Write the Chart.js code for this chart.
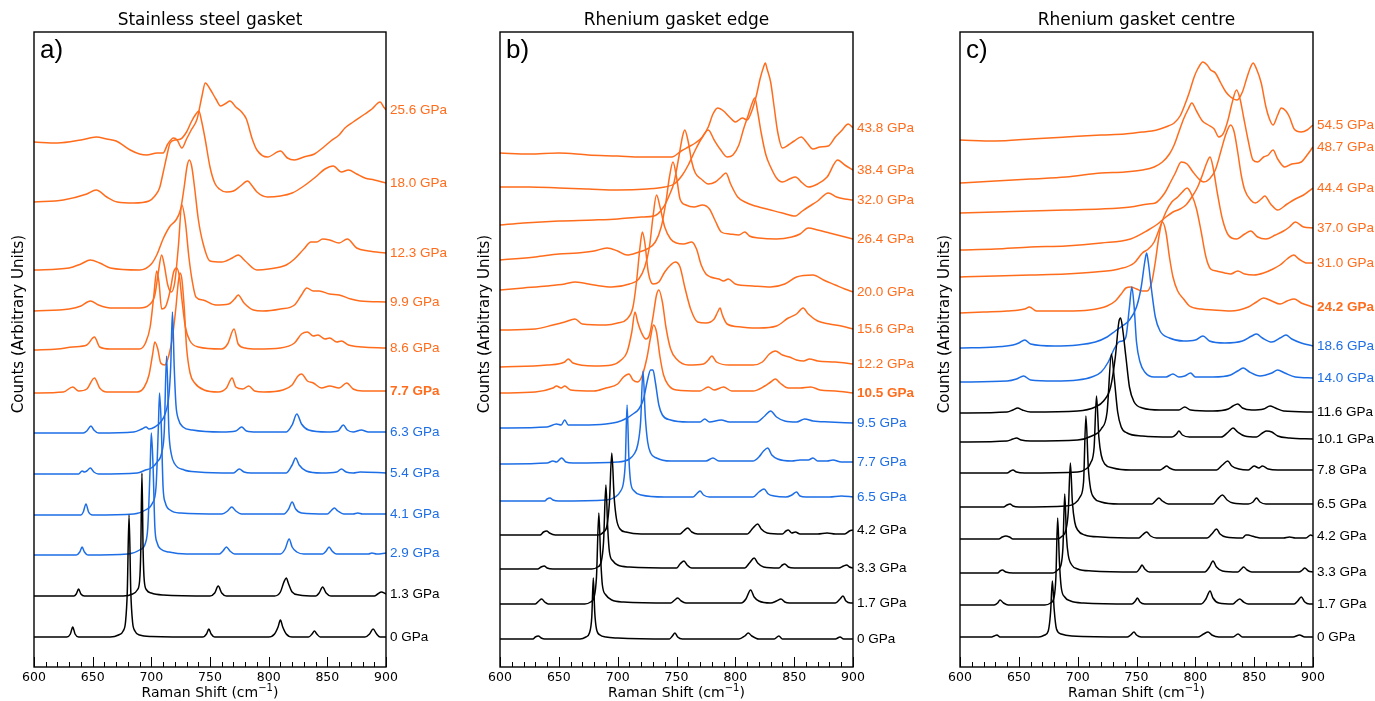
<!DOCTYPE html>
<html>
<head>
<meta charset="utf-8">
<script src="https://cdn.jsdelivr.net/npm/chart.js@4.4.1/dist/chart.umd.min.js"></script>
<style>
  html, body { margin: 0; padding: 0; background: #fff; overflow: hidden; }
  #wrap { position: relative; width: 1375px; height: 701px; }
  canvas { position: absolute; top: 0; }
</style>
</head>
<body>
<div id="wrap">
  <canvas id="panelA" width="470" height="701" style="left:0px"></canvas>
  <canvas id="panelB" width="470" height="701" style="left:466px"></canvas>
  <canvas id="panelC" width="449" height="701" style="left:926px"></canvas>
</div>
<script>
// ---- data: Raman shift (cm-1) vs stacked counts (arbitrary units) ----
const xTicks = [600, 650, 700, 750, 800, 850, 900];

// a) stainless steel gasket
const ssPressures = ['0 GPa', '1.3 GPa', '2.9 GPa', '4.1 GPa', '5.4 GPa', '6.3 GPa',
  '7.7 GPa', '8.6 GPa', '9.9 GPa', '12.3 GPa', '18.0 GPa', '25.6 GPa'];
const ssPhase = ['k', 'k', 'b', 'b', 'b', 'b', 'o', 'o', 'o', 'o', 'o', 'o'];
const ssSpectra = [
  [[600,30],[628,30],[631,33],[633,40],[635,33],[638,30],[665,30],[672,32],[676,36],[678,45],[679.5,75],[681,152],[682.5,75],[684,45],[686,36],[690,32],[700,30.5],[744,30],[747,33],[749,38],[751,33],[754,30],[800,30],[805,33],[808,40],[810,47],[812,40],[815,33],[820,30],[834,30],[837,33],[839,36],[841,33],[844,30],[882,30],[886,33],[889,38],[892,33],[895,30],[900,30]],
  [[600,71],[634,71],[636,73],[638,78],[640,73],[643,71],[676,71],[684,73],[688,77],[690,86],[691,116],[692,194],[693,116],[694,86],[696,77],[700,74],[710,72],[750,71],[754,74],[757,81],[760,74],[764,71],[805,71],[810,75],[813,85],[815,89],[817,83],[820,75],[826,72],[840,71],[843,74],[846,80],[849,74],[853,71],[890,71],[893,73],[896,75],[900,73]],
  [[600,112],[636,112],[639,115],[641,120],[643,115],[646,112],[680,113],[690,117],[695,124],[697,140],[699,200],[700,234],[701.5,200],[703,140],[705,124],[708,118],[715,115],[730,113],[758,113],[761,116],[764,120],[767,116],[771,113],[810,113],[814,118],[817.5,128],[820,120],[824,115],[830,113],[846,113],[849,116],[851.5,120],[854,116],[858,113],[885,113],[888,114],[892,113],[900,114]],
  [[600,152],[640,152],[642,155],[644.3,163],[646.5,155],[650,152],[685,153],[695,157],[701,164],[704,180],[706,240],[707,274],[708.5,240],[710,180],[712,164],[716,157],[725,154],[760,153],[765,156],[768.5,160],[772,156],[777,153],[813,153],[817,158],[820,165],[823,158],[828,154],[850,153],[853,156],[856,159],[859,156],[864,153],[872,153],[876,154],[880,153],[900,153]],
  [[600,193],[638,193],[641,196],[643,195],[645,196],[648,199],[651,195],[655,193],[688,194],[695,197],[700,199],[705,205],[709,215],[711,235],[713,311],[715,235],[717,213],[720,203],[728,197],[740,195],[770,194],[775,198],[779,195],[785,194],[815,194],[820,202],[823,209],[826,202],[832,196],[845,194],[858,195],[862,198],[866,195],[872,194],[878,195],[900,194]],
  [[600,234],[642,234],[645,236],[648.6,241],[651,237],[655,234],[685,235],[692,238],[695.5,240],[698,238],[703,240],[708,245],[712,254],[715,272],[716.5,300],[718,355],[719.5,300],[721,262],[723,248],[727,240],[735,237],[760,235],[772,236],[777,240],[781,236],[790,235],[815,235],[820,242],[824,253],[828,243],[834,237],[850,235],[859,236],[863.6,242],[867,237],[872,235],[879,237],[885,235],[900,235]],
  [[600,274],[625,275],[633,280],[638,276],[645,278],[651.5,289],[656,279],[662,275],[688,275],[694,280],[698,292],[701,312],[703,325],[705.5,318],[708,304],[711.5,302],[715,312],[718,330],[721,360],[723,385],[724.5,394],[726,388],[728,360],[730,320],[733,294],[737,284],[745,277],[757,275],[764,279],[768.8,289],[772,280],[778,278],[783,281],[788,276],[796,275],[812,277],[820,282],[825,291],[828,293],[833,286],[838,284],[845,279],[852,281],[860,279],[866.5,284],[872,278],[880,276],[900,276]],
  [[600,317],[620,318],[633,320],[645,322],[651.5,330],[656,320],[665,318],[690,318],[695,324],[699,340],[702,370],[704.6,396],[706.5,385],[708.8,358],[712,360],[716,376],[719,395],[721.5,399],[724,390],[726,368],[729,340],[733,326],[740,320],[760,318],[765,323],[770.5,338],[774,323],[780,319],[790,318],[810,319],[822,324],[828,333],[833,335],[838,331],[842,332],[848,328],[852,329],[858,325],[862,326],[868,322],[880,320],[900,319]],
  [[600,356],[630,358],[640,361],[648,366],[655,362],[665,359],[690,359],[698,362],[703,372],[706,395],[708.8,412],[711,402],[714,382],[717,375],[720,385],[723,420],[726,462],[729,445],[732,410],[735,385],[738,370],[744,367],[755,362],[766,363],[771,368],[774,372],[779,364],[787,357],[795,356],[810,358],[822,362],[828,372],[832.5,379],[838,376],[843,376],[852,373],[860,372],[870,368],[878,366],[900,365]],
  [[600,397],[630,399],[640,403],[648,407],[656,404],[665,399],[690,397],[700,403],[705,413],[710,428],[716,441],[721,447],[725,458],[728,480],[730.5,501],[732.4,507],[734.5,500],[737,478],[740,448],[744,424],[750,406],[760,405],[769,409],[774,412],[780,406],[790,397],[800,398],[815,402],[822,408],[830,418],[836,425],[841,425],[846,428],[852,427],[860,424],[867,428],[875,419],[885,416],[900,414]],
  [[600,465],[625,467],[645,473],[653,477],[662,470],[671,465],[685,464],[698,466],[703,471],[707,479],[710,494],[713,510],[716,524],[720,527],[725,528],[730,535],[734,545],[738,553],[740.5,556],[743,545],[746,527],[750,500],[754,484],[758,478],[764,475],[770,476],[776,481],[782,486],[786,481],[790,475],[799,470],[810,471],[820,474],[830,481],[840,490],[848,498],[855,501],[862,495],[868,497],[875,493],[882,489],[890,487],[900,484]],
  [[600,525],[620,524],[640,527],[653,530],[662,528],[670,526],[682,517],[690,513],[696,512],[705,514],[710,514],[714,523],[719,529],[722,527],[726,519],[730,528],[734,537],[739,548],[743,570],[746,584],[750,578],[755,568],[759,561],[764,564],[767,566],[772,560],[777,555],[781,548],[786,528],[790,517],[799,510],[810,516],[816,509],[822,507],[830,510],[839,513],[847,520],[853,526],[860,532],[865,539],[872,545],[882,553],[888,558],[895,565],[898,560],[900,557]]
];

// b) rhenium gasket edge
const reEdgePressures = ['0 GPa', '1.7 GPa', '3.3 GPa', '4.2 GPa', '6.5 GPa', '7.7 GPa', '9.5 GPa',
  '10.5 GPa', '12.2 GPa', '15.6 GPa', '20.0 GPa', '26.4 GPa', '32.0 GPa', '38.4 GPa', '43.8 GPa'];
const reEdgePhase = ['k', 'k', 'k', 'k', 'b', 'b', 'b', 'o', 'o', 'o', 'o', 'o', 'o', 'o', 'o'];
const reEdgeSpectra = [
  [[600,28],[628,28],[630,30],[632.6,31],[635,29],[638,28],[668,28],[673,30],[676,34],[678,50],[679.3,89],[680.5,55],[682,38],[685,32],[690,30],[700,29],[744,28],[746.5,31],[748.7,34],[751,30],[755,28],[803,28],[808,31],[811,34],[814,31],[820,28],[833,28],[837,31],[840,28],[885,28],[889,30],[892,28],[900,28]],
  [[600,63],[630,63],[633,66],[635.4,68],[638,65],[641,63],[672,63],[677,65],[680,70],[682,90],[684,154],[685.5,110],[687,82],[690,72],[695,67],[705,65],[745,64],[748.5,67],[751,69],[754,66],[758,64],[805,64],[809,68],[813,77],[816,70],[820,66],[830,64],[835,66],[838.8,68],[842,65],[846,64],[885,64],[889,68],[891.5,71],[894,66],[898,64],[900,64]],
  [[600,98],[632,98],[635,100],[637.6,101],[640,99],[645,98],[678,98],[683,100],[686,105],[688,125],[690,182],[691.5,140],[693,115],[696,106],[700,102],[710,100],[750,99],[753,103],[756.4,106],[759,102],[763,99],[808,99],[812,104],[816,109],[819,104],[824,100],[837,99],[840,102],[842,103],[845,100],[850,99],[888,99],[892,101],[894.6,102],[897,100],[900,99]],
  [[600,132],[634,132],[637,135],[639.7,136],[642,134],[647,132],[683,132],[688,135],[691,142],[693,165],[695,214],[697,170],[699,148],[702,138],[707,135],[720,133],[753,133],[756,136],[759.5,139],[763,135],[768,133],[810,133],[815,139],[819,143],[822,138],[827,134],[840,133],[843,136],[845,137],[848,134],[851,135],[855,133],[870,133],[878,134],[885,133],[893,133],[897,136],[900,137]],
  [[600,166],[638,166],[640,168],[642.5,169],[645,167],[650,166],[690,167],[698,170],[702,175],[705,185],[706.5,205],[708,262],[709.5,210],[711,185],[714,176],[720,172],[740,170],[764,170],[767,173],[770,176],[773,172],[778,170],[815,170],[820,175],[824.4,178],[828,173],[833,171],[843,170],[848,172],[852,175],[855,171],[860,170],[880,170],[890,171],[900,170]],
  [[600,203],[640,204],[645,206],[648,205],[652.4,209],[656,205],[662,204],[700,205],[710,208],[714,213],[717,222],[719.5,245],[721.5,296],[723.5,250],[725.5,225],[728,214],[733,209],[745,206],[775,206],[781,209],[786,206],[815,206],[820,210],[824,216],[827.5,219],[831,212],[836,208],[848,206],[855,207],[862,207],[866,209],[870,206],[878,206],[883,207],[890,205],[900,205]],
  [[600,239],[640,240],[648,243],[652,242],[655,247],[658,242],[670,242],[690,243],[700,245],[708,249],[713,253],[718,258],[722,268],[725,285],[728,297],[730,297],[732,285],[735,262],[738,252],[745,247],[760,245],[770,245],[774,248],[778,245],[788,247],[795,245],[818,245],[825,251],[830,256],[835,250],[842,246],[852,245],[859,248],[866,246],[880,245],[900,244]],
  [[600,274],[630,275],[645,279],[648,281],[652,279],[655,281],[660,277],[680,276],[690,279],[700,283],[705,290],[709.6,293],[713,287],[717,285],[721,292],[725,310],[728,330],[730.5,342],[733,335],[736,310],[739,292],[743,282],[750,277],[770,276],[777,280],[782,277],[790,280],[797,276],[815,276],[825,281],[830,285],[834,288],[838,284],[845,279],[855,279],[864,280],[872,277],[885,276],[900,274]],
  [[600,300],[640,302],[655,305],[658,308],[662,304],[680,301],[695,302],[703,307],[708,315],[712,335],[714.7,355],[717,345],[720,335],[724,328],[727,332],[730,350],[733,372],[735,377],[738,365],[741,340],[745,318],[750,308],[760,302],[773,303],[777,307],[780,311],[784,305],[795,302],[815,302],[823,305],[829,313],[834,316],[840,312],[846,310],[852,307],[858,306],[863,308],[870,306],[885,305],[900,303]],
  [[600,337],[630,338],[645,342],[655,345],[663.7,348],[670,343],[690,342],[700,344],[708,348],[713,360],[716,385],[719,420],[721,435],[723,425],[726,395],[730,383],[735,385],[740,395],[745,402],[749,405],[753,400],[757,380],[762,358],[768,345],[775,344],[782,348],[785,355],[787,359],[789,352],[793,343],[805,340],[820,339],[835,341],[845,349],[852,353],[857.6,359],[862,353],[870,346],[880,343],[890,341],[900,338]],
  [[600,377],[620,379],[640,381],[655,383],[664,385],[680,382],[695,380],[710,383],[718,388],[723,400],[727,420],[730,450],[733,472],[736,460],[740,440],[745,428],[750,424],[756,423],[763,425],[767,418],[771,402],[775,393],[779,390],[786,388],[790,386],[794,388],[800,383],[815,381],[830,380],[842,383],[852,390],[866,392],[875,387],[885,382],[893,378],[900,375]],
  [[600,407],[630,410],[650,413],[666,414],[680,416],[691,419],[700,416],[708,412],[718,415],[725,418],[732,425],[737,440],[741,465],[744,490],[747,505],[750,490],[753,468],[758,462],[765,460],[772,462],[778,458],[783,446],[788,435],[795,433],[803,432],[808,435],[812,431],[820,429],[835,428],[848,430],[855,433],[862,439],[870,437],[880,434],[890,431],[900,428]],
  [[600,442],[620,444],[650,446],[680,447],[700,448],[720,450],[731,451],[739,460],[744,472],[748,485],[752,510],[755,530],[757,537],[760,525],[763,505],[766,494],[771,488],[777,483],[783,485],[788,490],[792,494],[796,483],[802,470],[810,464],[817,461],[830,457],[840,454],[851,451],[857,456],[862,460],[870,466],[879,474],[886,470],[893,468],[900,467]],
  [[600,480],[625,480],[650,479],[675,478],[700,477],[725,478],[740,480],[748,483],[755,492],[760,502],[766,517],[771,528],[777,537],[782,527],[787,518],[793,510],[798,512],[803,522],[807,538],[811,552],[814,563],[816.6,569],[819,555],[822,534],[826,512],[830,500],[835,489],[840,485],[846,488],[851,490],[857,484],[862,480],[870,483],[878,490],[887,507],[893,502],[900,497]],
  [[600,514],[625,513],[650,514],[675,512],[700,511],[720,510],[735,510],[746,510],[754,516],[760,520],[766,524],[772,530],[777,540],[781,553],[785,559],[790,556],[795,550],[800,545],[806,549],[810,547],[814,556],[818,572],[821,588],[824,600],[825.5,604],[827,598],[830,585],[833,560],[836,535],[840,519],[845,522],[850,526],[856,530],[861,524],[866,518],[872,520],[879,521],[885,530],[890,536],[896,543],[900,539]]
];

// c) rhenium gasket centre
const reCentrePressures = ['0 GPa', '1.7 GPa', '3.3 GPa', '4.2 GPa', '6.5 GPa', '7.8 GPa', '10.1 GPa', '11.6 GPa',
  '14.0 GPa', '18.6 GPa', '24.2 GPa', '31.0 GPa', '37.0 GPa', '44.4 GPa', '48.7 GPa', '54.5 GPa'];
const reCentrePhase = ['k', 'k', 'k', 'k', 'k', 'k', 'k', 'k', 'b', 'b', 'o', 'o', 'o', 'o', 'o', 'o'];
const reCentreSpectra = [
  [[600,30],[627,30],[629,31],[631.4,32],[634,30],[640,30],[667,30],[672,32],[675,36],[677,55],[678.5,86],[680,58],[682,38],[686,33],[695,31],[742,30],[745,32],[747.9,35],[750,32],[754,30],[802,30],[807,33],[810.8,35],[814,32],[820,30],[832,30],[836.3,33],[840,30],[883,30],[888.6,32],[893,30],[900,30]],
  [[600,62],[629,62],[632,64],[634,67],[637,64],[641,62],[672,62],[677,64],[680,70],[681.5,90],[683,149],[684.5,105],[686,80],[689,70],[694,66],[705,64],[746,63],[749,66],[750.8,69],[753,65],[757,63],[805,63],[809,68],[812.5,76],[815,69],[820,64],[832,63],[835,66],[837.7,68],[841,65],[845,63],[884,63],[887,66],[890,70],[893,65],[897,63],[900,63]],
  [[600,94],[632,94],[634,96],[636,97],[639,95],[645,94],[679,94],[683,97],[686,103],[687.5,120],[689,173],[690.5,130],[692,112],[695,102],[700,98],[712,96],[750,95],[753,99],[754.7,102],[757,98],[761,95],[808,95],[812,100],[815,106],[818,100],[823,96],[836,95],[839,98],[841,100],[844,97],[848,95],[888,95],[891,97],[893,99],[896,96],[900,95]],
  [[600,128],[633,128],[636,130],[639,131],[642,130],[645,128],[682,128],[687,131],[690,137],[692,155],[693.8,204],[695.5,165],[697.5,145],[700,137],[706,132],[720,130],[752,129],[755,132],[758.6,135],[762,131],[767,129],[810,129],[814,133],[818,138],[821,133],[826,130],[840,129],[843,132],[845,132],[848,131],[851,130],[855,129],[875,129],[880,130],[885,129],[894,129],[898,132],[900,131]],
  [[600,160],[637,160],[640,162],[642.5,163],[645,161],[650,160],[690,161],[698,164],[702,170],[705,185],[707,251],[709,200],[711,178],[714,169],[720,165],[735,163],[763,163],[766,166],[769,169],[772,166],[777,163],[815,163],[819,168],[823,172],[827,167],[832,164],[845,163],[849,165],[852,169],[855,165],[860,163],[885,163],[900,163]],
  [[600,194],[640,194],[643,196],[645,197],[648,195],[655,194],[700,195],[707,198],[711,204],[714,220],[716,271],[718,230],[720,212],[723,203],[730,199],[745,197],[770,197],[773,199],[775.6,201],[778,199],[783,197],[818,197],[823,202],[827.5,206],[831,201],[837,198],[845,197],[850,201],[854,199],[857,201],[862,198],[870,197],[900,197]],
  [[600,225],[640,226],[645,228],[648,229],[652,227],[660,226],[700,227],[712,231],[720,238],[725,255],[728.7,313],[731,290],[734,255],[737,240],[742,234],[755,231],[780,230],[784,233],[786,236],[789,232],[795,230],[822,230],[828,235],[832,239],[836,235],[842,231],[852,230],[857,234],[860.6,236],[865,235],[870,231],[880,229],[900,228]],
  [[600,254],[640,255],[645,257],[649,259],[653,257],[660,255],[700,256],[715,260],[722,266],[728,280],[732,310],[735,345],[736.5,349],[738,340],[741,310],[744,280],[748,265],[755,259],[770,257],[786,257],[791,260],[796,257],[815,256],[828,258],[832,261],[836,263],[840,259],[848,257],[858,258],[863.5,261],[868,259],[875,256],[900,255]],
  [[600,285],[640,286],[648,288],[654,291],[660,287],[680,286],[700,287],[712,290],[720,295],[726,305],[731,318],[735,325],[738,326],[741,330],[744,360],[746,380],[748,360],[750,325],[753,305],[757,295],[765,290],[775,290],[781,293],[786,290],[791,291],[796,294],[800,290],[815,290],[830,292],[836,296],[840.6,299],[846,295],[855,291],[865,294],[870,297],[876,294],[885,290],[900,289]],
  [[600,319],[630,320],[645,322],[650,324],[655,327],[660,323],[680,321],[700,322],[715,325],[725,330],[732,336],[738,341],[744,347],[750,360],[754,380],[757,405],[758.6,414],[760,405],[763,375],[766,350],[770,336],[778,329],[790,326],[800,327],[806.5,331],[812,326],[825,324],[840,326],[848,331],[852,333],[857,329],[865,325],[872,329],[877,332],[882,328],[890,324],[900,321]],
  [[600,354],[620,355],[640,356],[655,358],[659,360],[665,356],[690,356],[710,357],[725,361],[732,366],[737,373],[741,379],[745,380],[750,378],[755,376],[759,376],[763,385],[766,405],[769,430],[772,445],[775,435],[778,410],[781,390],[785,376],[790,368],[795,361],[805,358],[815,357],[830,356],[845,360],[852,365],[858,369],[865,366],[872,363],[878,366],[884,368],[890,364],[900,360]],
  [[600,390],[630,391],[660,392],[690,393],[715,395],[735,398],[748,404],[755,414],[760,418],[765,425],[770,440],[775,455],[780,465],[785,470],[789,475],[793,479],[797,472],[801,458],[805,435],[809,410],[813,398],[818,396],[825,394],[830,393],[836,396],[842,393],[850,392],[858,394],[866,398],[872,402],[878,408],[883.6,412],[888,408],[895,404],[900,404]],
  [[600,417],[630,418],[660,420],[690,421],[720,424],[745,428],[760,437],[768,443],[775,450],[781,455],[787,458],[792,462],[797,470],[802,480],[806,492],[810,505],[812.5,510],[815,500],[819,472],[823,448],[828,432],[835,428],[842,433],[847,436],[853,430],[860,428],[868,432],[875,436],[880,440],[885,445],[892,440],[900,439]],
  [[600,454],[630,455],[660,456],[690,457],[720,458],[745,460],[760,463],[766,464],[774,474],[779,485],[783,494],[788,505],[793,503],[798,495],[803,488],[807,485],[812,488],[817,497],[822,517],[826,533],[830,542],[833,535],[836,515],[839,492],[842,477],[847,467],[851,464],[856,468],[859,471],[864,463],[870,457],[878,463],[885,468],[892,472],[900,479]],
  [[600,484],[630,486],[660,488],[690,490],[720,494],[740,495],[755,497],[765,500],[772,505],[778,513],[782,522],[786,535],[790,548],[794,558],[797,564],[801,556],[806,546],[811,542],[816,538],[820,530],[824,534],[828,548],[831,563],[835,577],[838,568],[841,550],[845,526],[849,507],[853,505],[858,510],[862,512],[866,517],[870,508],[876,500],[882,503],[890,505],[895,512],[900,520]],
  [[600,527],[630,526],[660,528],[690,530],[720,532],[740,533],[755,535],[763,536],[770,538],[777,541],[782,544],[787,551],[791,562],[795,575],[799,590],[802,598],[806.5,605],[810,602],[813,597],[817,594],[821.6,584],[826,575],[830,570],[835.5,567],[840,575],[844,590],[847,600],[849,604],[852,598],[856,584],[860,560],[863,548],[866,542],[870,552],[873,559],[877,556],[880,550],[884,538],[890,535],[895,537],[900,542]]
];

// ---- styling ----
const phaseColor = { k: '#000000', b: '#1d6ee6', o: '#ff6c1c' };
const sansLabel = '"Liberation Sans", Arial, sans-serif';
const sansAxis = '"DejaVu Sans", sans-serif';

const panelDecor = {
  id: 'panelDecor',
  afterDraw(chart, args, opts) {
    const { ctx, chartArea: area } = chart;
    const xs = chart.scales.x, ys = chart.scales.y;
    ctx.save();

    // frame
    ctx.strokeStyle = '#000';
    ctx.lineWidth = 1.4;
    ctx.strokeRect(area.left, area.top, area.right - area.left, area.bottom - area.top);

    // inward bottom ticks, major every 50 and minor every 10
    ctx.lineWidth = 1;
    ctx.beginPath();
    for (let v = xs.min; v <= xs.max; v += 10) {
      const px = Math.round(xs.getPixelForValue(v)) + 0.5;
      const len = xTicks.includes(v) ? 10 : 5;
      ctx.moveTo(px, area.bottom);
      ctx.lineTo(px, area.bottom - len);
    }
    ctx.stroke();

    // tick labels
    ctx.fillStyle = '#000';
    ctx.font = '12.5px ' + sansAxis;
    ctx.textAlign = 'center';
    ctx.textBaseline = 'alphabetic';
    xTicks.forEach(v => ctx.fillText(String(v), xs.getPixelForValue(v), area.bottom + 14));

    // x title with superscript
    const cx = (area.left + area.right) / 2;
    const t1 = 'Raman Shift (cm', t3 = ')';
    ctx.font = '10px ' + sansAxis;
    const w2 = ctx.measureText('\u22121').width;
    ctx.font = '14px ' + sansAxis;
    const w1 = ctx.measureText(t1).width, w3 = ctx.measureText(t3).width;
    const sx = cx - (w1 + w2 + w3) / 2;
    ctx.textAlign = 'left';
    ctx.fillText(t1, sx, area.bottom + 30);
    ctx.font = '10px ' + sansAxis;
    ctx.fillText('\u22121', sx + w1, area.bottom + 24);
    ctx.font = '14px ' + sansAxis;
    ctx.fillText(t3, sx + w1 + w2, area.bottom + 30);

    // y title
    ctx.save();
    ctx.translate(area.left - 15, 324);
    ctx.rotate(-Math.PI / 2);
    ctx.textAlign = 'center';
    ctx.textBaseline = 'middle';
    ctx.font = '15px ' + sansAxis;
    ctx.fillText('Counts (Arbitrary Units)', 0, 0);
    ctx.restore();

    // panel title
    ctx.textAlign = 'center';
    ctx.font = '17px ' + sansAxis;
    ctx.fillText(opts.title, cx, area.top - 7);

    // panel letter
    ctx.textAlign = 'left';
    ctx.font = '26px ' + sansLabel;
    ctx.fillText(opts.letter, area.left + 6, area.top + 26);

    // pressure labels at the right end of each trace
    ctx.textBaseline = 'middle';
    chart.data.datasets.forEach(ds => {
      const last = ds.data[ds.data.length - 1];
      const py = ys.getPixelForValue(last.y);
      ctx.fillStyle = ds.borderColor;
      ctx.font = (ds.label === opts.bold ? 'bold ' : '') + '13.5px ' + sansLabel;
      ctx.fillText(ds.label, area.right + 4, py);
    });
    ctx.restore();
  }
};

function makePanel(id, names, phases, spectra, title, letter, bold, rightPad) {
  const datasets = spectra.map((s, i) => ({
    label: names[i],
    data: s.map(p => ({ x: p[0], y: p[1] })),
    borderColor: phaseColor[phases[i]],
    borderWidth: 1.5,
    pointRadius: 0,
    cubicInterpolationMode: 'monotone',
    fill: false
  }));
  return new Chart(document.getElementById(id), {
    type: 'line',
    data: { datasets },
    options: {
      responsive: false,
      animation: false,
      devicePixelRatio: 1,
      layout: { padding: { left: 34, top: 32, bottom: 34, right: rightPad } },
      scales: {
        x: { type: 'linear', min: 600, max: 900, display: false },
        y: { type: 'linear', min: 0, max: 635, display: false }
      },
      plugins: {
        legend: { display: false },
        tooltip: { enabled: false },
        panelDecor: { title, letter, bold }
      }
    },
    plugins: [panelDecor]
  });
}

makePanel('panelA', ssPressures, ssPhase, ssSpectra, 'Stainless steel gasket', 'a)', '7.7 GPa', 84);
makePanel('panelB', reEdgePressures, reEdgePhase, reEdgeSpectra, 'Rhenium gasket edge', 'b)', '10.5 GPa', 83);
makePanel('panelC', reCentrePressures, reCentrePhase, reCentreSpectra, 'Rhenium gasket centre', 'c)', '24.2 GPa', 62);
</script>
</body>
</html>
